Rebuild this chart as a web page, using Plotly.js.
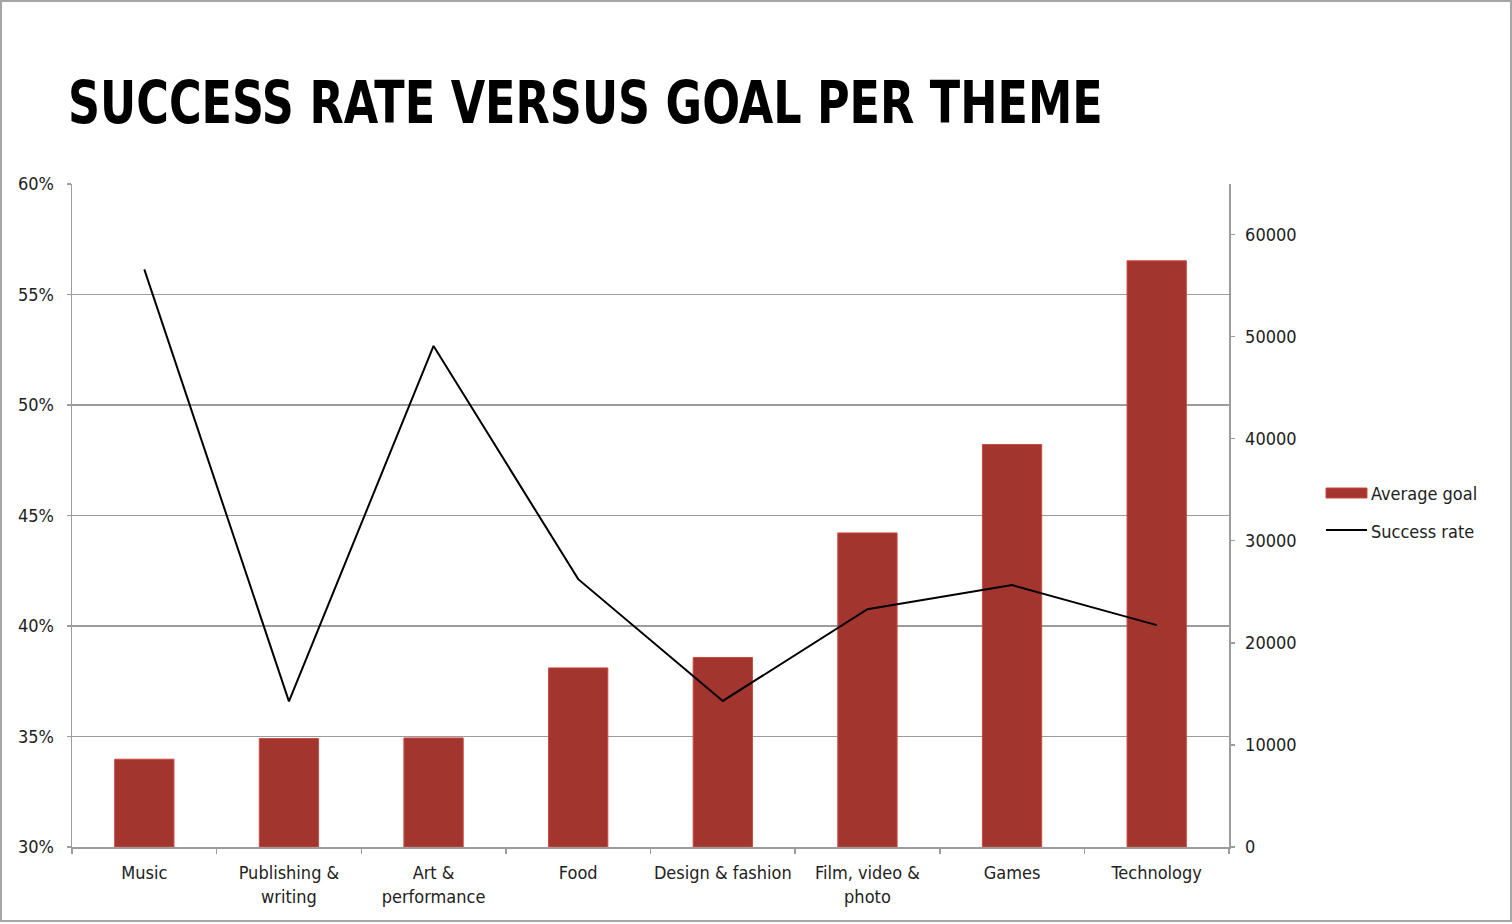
<!DOCTYPE html>
<html>
<head>
<meta charset="utf-8">
<script src="https://cdn.plot.ly/plotly-3.0.1.min.js"></script>
<style>
  html, body { margin: 0; padding: 0; background: #ffffff; }
  #wrap { position: relative; width: 1512px; height: 924px; }
  #chart { position: absolute; left: 0; top: 0; width: 1512px; height: 924px; }
  #frame { position: absolute; left: 0; top: 0; width: 1508px; height: 918px;
           border: 2px solid #a6a6a6; pointer-events: none; }
</style>
</head>
<body>
<div id="wrap">
  <div id="chart"></div>
  <div id="frame"></div>
</div>
<script>
// ---- data ----
const categories = ['Music', 'Publishing & writing', 'Art & performance', 'Food',
                    'Design & fashion', 'Film, video & photo', 'Games', 'Technology'];
const tickLabels = ['Music', 'Publishing &<br>writing', 'Art &<br>performance', 'Food',
                    'Design & fashion', 'Film, video &<br>photo', 'Games', 'Technology'];
const averageGoal = [8600, 10620, 10680, 17540, 18560, 30760, 39420, 57410];
const successRate = [0.5614, 0.3659, 0.5267, 0.4212, 0.3661, 0.4076, 0.4185, 0.4004];
const leftTicks = [0.30, 0.35, 0.40, 0.45, 0.50, 0.55, 0.60];
const rightTicks = [0, 10000, 20000, 30000, 40000, 50000, 60000];

const FONT = '"DejaVu Sans Condensed", "DejaVu Sans", sans-serif';
const GRID = '#9c9c9c';
const BAR = '#a3352f';
const BAR_EDGE = '#cc4a40';
const TXT = '#222222';

const traces = [
  {
    type: 'bar', name: 'Average goal', x: categories, y: averageGoal,
    yaxis: 'y', xaxis: 'x',
    marker: { color: BAR, line: { color: BAR_EDGE, width: 1 } },
    showlegend: false, hoverinfo: 'x+y'
  },
  {
    type: 'scatter', mode: 'lines', name: 'Success rate', x: categories, y: successRate,
    yaxis: 'y2', xaxis: 'x',
    line: { color: '#000000', width: 2 },
    showlegend: false, hoverinfo: 'x+y'
  }
];

const layout = {
  width: 1512, height: 924,
  paper_bgcolor: '#ffffff', plot_bgcolor: 'rgba(0,0,0,0)',
  margin: { l: 72, r: 283, t: 184, b: 77, pad: 0 },
  font: { family: FONT, size: 18, color: TXT },
  title: {
    text: '<b>SUCCESS RATE VERSUS GOAL PER THEME</b>',
    font: { family: FONT, size: 58, color: '#000000' },
    x: 68 / 1512, xanchor: 'left', xref: 'container',
    y: 1 - 103 / 924, yanchor: 'middle', yref: 'container'
  },
  bargap: 0.59,
  xaxis: {
    type: 'category', tickvals: categories, ticktext: tickLabels, tickangle: 0,
    showline: true, linecolor: GRID, linewidth: 1.5,
    ticks: 'outside', tickson: 'boundaries', ticklen: 5, tickcolor: GRID, tickwidth: 1.5,
    showgrid: false, zeroline: false, ticklabelstandoff: 9,
    tickfont: { family: FONT, size: 18, color: TXT }
  },
  yaxis: {
    side: 'right', range: [0, 64930], tickvals: rightTicks, tickformat: 'd',
    showline: true, linecolor: GRID, linewidth: 1.5,
    ticks: 'outside', ticklen: 4, tickcolor: GRID, tickwidth: 1.5,
    showgrid: false, zeroline: false, ticklabelstandoff: 7,
    tickfont: { family: FONT, size: 18, color: TXT }
  },
  yaxis2: {
    overlaying: 'y', side: 'left', range: [0.30, 0.60], tickvals: leftTicks,
    tickformat: '.0%',
    showline: true, linecolor: GRID, linewidth: 1.5,
    ticks: 'outside', ticklen: 4, tickcolor: GRID, tickwidth: 1.5,
    showgrid: true, gridcolor: GRID, gridwidth: 1.5, zeroline: false,
    ticklabelstandoff: 9,
    tickfont: { family: FONT, size: 18, color: TXT }
  },
  shapes: [
    { type: 'rect', xref: 'paper', yref: 'paper',
      x0: (1326 - 72) / 1157, x1: (1367 - 72) / 1157,
      y0: (847 - 498) / 663, y1: (847 - 488) / 663,
      fillcolor: BAR, line: { color: BAR_EDGE, width: 1 } },
    { type: 'line', xref: 'paper', yref: 'paper',
      x0: (1326 - 72) / 1157, x1: (1367 - 72) / 1157,
      y0: (847 - 530) / 663, y1: (847 - 530) / 663,
      line: { color: '#000000', width: 2 } }
  ],
  annotations: [
    { xref: 'paper', yref: 'paper', x: (1369 - 72) / 1157, y: (847 - 493) / 663,
      xanchor: 'left', yanchor: 'middle', showarrow: false, text: 'Average goal',
      font: { family: FONT, size: 18, color: TXT } },
    { xref: 'paper', yref: 'paper', x: (1369 - 72) / 1157, y: (847 - 531) / 663,
      xanchor: 'left', yanchor: 'middle', showarrow: false, text: 'Success rate',
      font: { family: FONT, size: 18, color: TXT } }
  ]
};

Plotly.newPlot('chart', traces, layout, { displayModeBar: false, staticPlot: true })
  .then(function (gd) {
    // condense the title horizontally to match the narrow display face
    const t = gd.querySelector('.gtitle');
    if (t) {
      const target = 1035;
      const w = t.getBBox().width;
      if (w > 0) {
        const s = target / w;
        t.setAttribute('transform', 'translate(68,0) scale(' + s + ',1) translate(-68,0)');
      }
    }
  });
</script>
</body>
</html>
